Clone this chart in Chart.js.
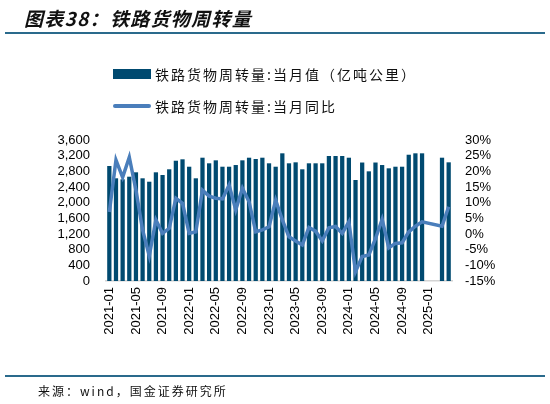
<!DOCTYPE html>
<html>
<head>
<meta charset="utf-8">
<script src="https://cdn.jsdelivr.net/npm/chart.js@4/dist/chart.umd.min.js"></script>
<style>
  body { margin: 0; background: #fff; }
  #wrap { position: relative; width: 550px; height: 404px; overflow: hidden; font-family: "Noto Sans CJK SC", sans-serif; }
  #canvas { position: absolute; left: 0; top: 0; }
  .title { position: absolute; left: 24px; top: 4px; font-size: 19px; font-weight: bold; font-style: italic; letter-spacing: 1.3px; color: #111; }
  .rule { position: absolute; left: 5px; width: 540px; height: 2px; background: #2a6a8c; }
  .leg { position: absolute; left: 113px; font-size: 14px; letter-spacing: 2px; color: #111; line-height: 16px; }
  .leg span.box { position: absolute; left: 0; top: 3px; width: 38px; height: 10px; background: #004A70; }
  .leg span.ln { position: absolute; left: 0; top: 6px; width: 38px; height: 4px; border-radius: 2px; background: #4A7EBB; }
  .leg span.t { position: absolute; left: 42px; top: 0; white-space: nowrap; }
  .src { position: absolute; left: 38px; top: 382px; font-size: 12px; letter-spacing: 2px; color: #111; white-space: nowrap; }
</style>
</head>
<body>
<div id="wrap">
  <canvas id="canvas" width="550" height="404"></canvas>
  <div class="title">图表38：铁路货物周转量</div>
  <div class="rule" style="top:32px"></div>
  <div class="leg" style="top:66px"><span class="box"></span><span class="t">铁路货物周转量:当月值（亿吨公里）</span></div>
  <div class="leg" style="top:98px"><span class="ln"></span><span class="t">铁路货物周转量:当月同比</span></div>
  <div class="rule" style="top:375px"></div>
  <div class="src">来源：wind，国金证券研究所</div>
</div>
<script>
const meses = [
	"2021-01", "2021-02", "2021-03", "2021-04", "2021-05", "2021-06", "2021-07", "2021-08", "2021-09", "2021-10", "2021-11", "2021-12",
	"2022-01", "2022-02", "2022-03", "2022-04", "2022-05", "2022-06", "2022-07", "2022-08", "2022-09", "2022-10", "2022-11", "2022-12",
	"2023-01", "2023-02", "2023-03", "2023-04", "2023-05", "2023-06", "2023-07", "2023-08", "2023-09", "2023-10", "2023-11", "2023-12",
	"2024-01", "2024-02", "2024-03", "2024-04", "2024-05", "2024-06", "2024-07", "2024-08", "2024-09", "2024-10", "2024-11", "2024-12",
	"2025-01", "2025-02", "2025-03", "2025-04",
];

// 当月值（亿吨公里）
const valor_mes = [
	2936, 2622, 2596, 2663, 2775, 2622, 2535, 2775, 2706, 2852, 3071, 3107,
	2918, 2622, 3148, 3005, 3081, 2918, 2918, 2961, 3081, 3148, 3115, 3148,
	3005, 2918, 3260, 3005, 3030, 2852, 3005, 3005, 3005, 3191, 3191, 3191,
	3148, 2579, 3025, 2800, 3025, 2961, 2877, 2918, 2918, 3224, 3260, 3260,
	null, null, 3148, 3030,
];

// 当月同比 (%)
const variacion = [
	7, 23.6, 18.1, 24.5, 14, 1.3, -7, 4.5, 0.2, 1.8, 11.4, 9.8,
	0.2, 0.7, 14, 12.1, 11.4, 11.2, 15.6, 7.7, 14.6, 10.3, 0.7, 1.3,
	2.3, 10.8, 4.5, -0.9, -2.2, -3.5, 2.1, 0.9, -2.2, 2, 2.4, 0.2,
	3.9, -12, -7.2, -6.7, -1.5, 4.7, -4.4, -3, -2.8, 0.7, 2.5, 3.9,
	null, null, 2.5, 8.7,
];

const fuente = { family: "'Liberation Sans', Arial, sans-serif", size: 13 };

const canvas = document.getElementById("canvas");

const grafico = new Chart(canvas, {
	data: {
		labels: meses,
		datasets: [
			{
				type: "line",
				label: "铁路货物周转量:当月同比",
				data: variacion,
				yAxisID: "y1",
				borderColor: "#4A7EBB",
				borderWidth: 3.5,
				pointRadius: 0,
				tension: 0,
				spanGaps: true,
				order: 0,
			},
			{
				type: "bar",
				label: "铁路货物周转量:当月值（亿吨公里）",
				data: valor_mes,
				yAxisID: "y",
				backgroundColor: "#004A70",
				categoryPercentage: 1,
				barPercentage: 0.64,
				order: 1,
			},
		],
	},
	options: {
		responsive: false,
		animation: false,
		devicePixelRatio: 1,
		layout: { padding: { top: 140, bottom: 63, left: 0, right: 0 } },
		plugins: { legend: { display: false }, tooltip: { enabled: false } },
		scales: {
			x: {
				grid: { display: false, drawTicks: false },
				border: { display: true, color: "#d4d4d4", width: 1.5 },
				ticks: {
					autoSkip: false,
					minRotation: 90,
					maxRotation: 90,
					padding: 6,
					color: "#000",
					font: fuente,
					callback: (v, i) => (i % 4 == 0 ? meses[i] : ""),
				},
				afterFit: (s) => { s.height = 60; },
			},
			y: {
				position: "left",
				min: 0,
				max: 3600,
				grid: { display: false, drawTicks: false },
				border: { display: false },
				ticks: { stepSize: 400, autoSkip: false, padding: 16, color: "#000", font: fuente },
				afterFit: (s) => { s.width = 106; },
			},
			y1: {
				position: "right",
				min: -15,
				max: 30,
				grid: { display: false, drawTicks: false },
				border: { display: false },
				ticks: { stepSize: 5, autoSkip: false, padding: 13, color: "#000", font: fuente, callback: (v) => v + "%" },
				afterFit: (s) => { s.width = 98; },
			},
		},
	},
});
</script>
</body>
</html>
